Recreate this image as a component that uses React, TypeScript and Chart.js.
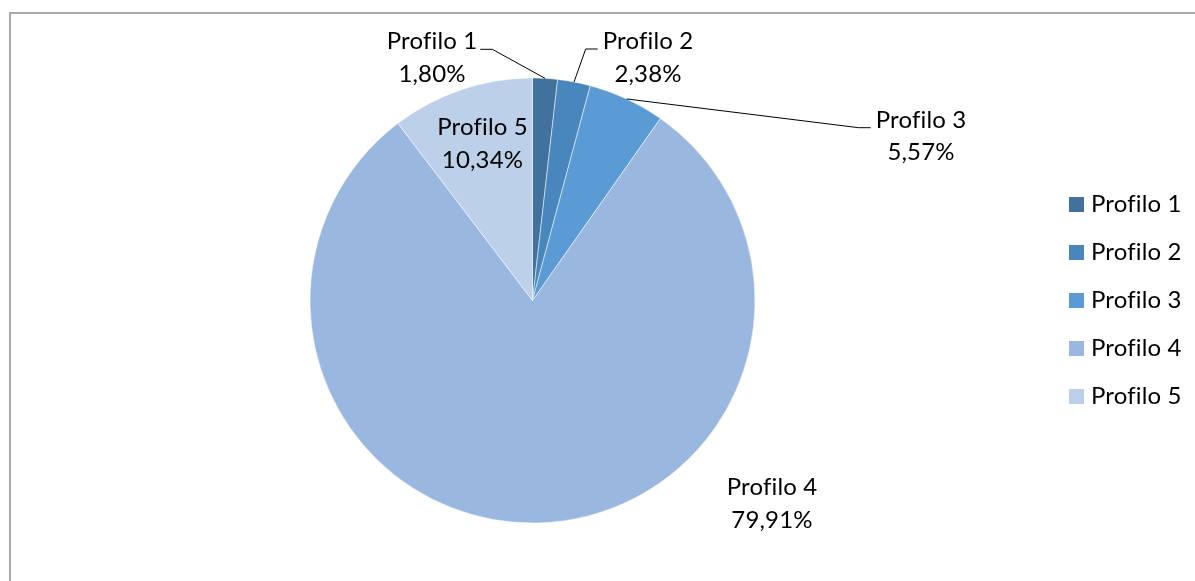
import React, { useEffect, useRef } from "react";
import { Chart, registerables } from "chart.js";

Chart.register(...registerables);

const categories = ["Profilo 1", "Profilo 2", "Profilo 3", "Profilo 4", "Profilo 5"];
const values = [1.8, 2.38, 5.57, 79.91, 10.34];
const percentLabels = ["1,80%", "2,38%", "5,57%", "79,91%", "10,34%"];
const colors = ["#41719C", "#4A86BE", "#5B9BD5", "#9AB8DF", "#BCD0EA"];

// label layout: offsets of label centre / first baseline from pie centre (px)
const labelDx = [-100.5, 115.5, 388.5, 239.5, -50];
const labelDy = [-251.2, -251.5, -172.8, 194.5, -165.5];
const hasLeader = [true, true, true, false, false];

const FONT = "24px Lato";
const LINE_GAP = 32.5;

const W = 1195;
const H = 581;

const decorPlugin = {
  id: "decor",
  beforeDraw(chart: any) {
    const ctx = chart.ctx;
    ctx.save();
    ctx.fillStyle = "#A8A8A8";
    ctx.fillRect(9, 12, 2, H - 12);
    ctx.fillRect(9, 12, W - 9, 2);
    ctx.restore();
  },
  afterDraw(chart: any) {
    const ctx = chart.ctx;
    const meta = chart.getDatasetMeta(0);
    ctx.save();
    ctx.font = FONT;
    try {
      (ctx as any).letterSpacing = "0.15px";
    } catch (e) {}
    ctx.fillStyle = "#000";
    ctx.strokeStyle = "#000";
    ctx.lineWidth = 1;
    meta.data.forEach((arc: any, i: number) => {
      const { x, y, startAngle, endAngle, outerRadius } = arc.getProps(
        ["x", "y", "startAngle", "endAngle", "outerRadius"],
        true
      );
      const mid = (startAngle + endAngle) / 2;
      const ax = x + Math.cos(mid) * outerRadius;
      const ay = y + Math.sin(mid) * outerRadius;
      const lx = x + labelDx[i];
      const ly = y + labelDy[i];
      ctx.textAlign = "center";
      ctx.textBaseline = "alphabetic";
      ctx.fillText(categories[i], lx, ly);
      ctx.fillText(percentLabels[i], lx, ly + LINE_GAP);
      if (hasLeader[i]) {
        const w = ctx.measureText(categories[i]).width;
        let sx: number, ex: number;
        if (lx > ax) {
          sx = lx - w / 2 - 5;
          ex = sx - 12;
        } else {
          sx = lx + w / 2 + 3;
          ex = sx + 12;
        }
        ctx.beginPath();
        ctx.moveTo(sx, ly);
        ctx.lineTo(ex, ly);
        ctx.lineTo(ax, ay);
        ctx.stroke();
      }
    });
    // legend
    ctx.textAlign = "left";
    categories.forEach((c, i) => {
      const top = 197 + 48 * i;
      ctx.fillStyle = colors[i];
      ctx.fillRect(1069, top, 15, 15);
      ctx.fillStyle = "#000";
      ctx.fillText(c, 1091, top + 15.3);
    });
    ctx.restore();
  },
};

export default function App() {
  const ref = useRef<HTMLCanvasElement>(null);
  useEffect(() => {
    document.body.style.margin = "0";
    const chart = new Chart(ref.current!, {
      type: "pie",
      data: {
        labels: categories,
        datasets: [
          {
            data: values,
            backgroundColor: colors,
            borderColor: "rgba(255,255,255,0.5)",
            borderWidth: 1,
          },
        ],
      },
      options: {
        responsive: false,
        animation: false,
        layout: { padding: { left: 309.5, right: 439.5, top: 77.5, bottom: 57.5 } },
        plugins: {
          legend: { display: false },
          tooltip: { enabled: false },
        },
      },
      plugins: [decorPlugin],
    });
    return () => chart.destroy();
  }, []);
  return (
    <div style={{ width: W, height: H, position: "relative", background: "#fff" }}>
      <canvas ref={ref} width={W} height={H} style={{ width: W, height: H, display: "block" }} />
    </div>
  );
}
